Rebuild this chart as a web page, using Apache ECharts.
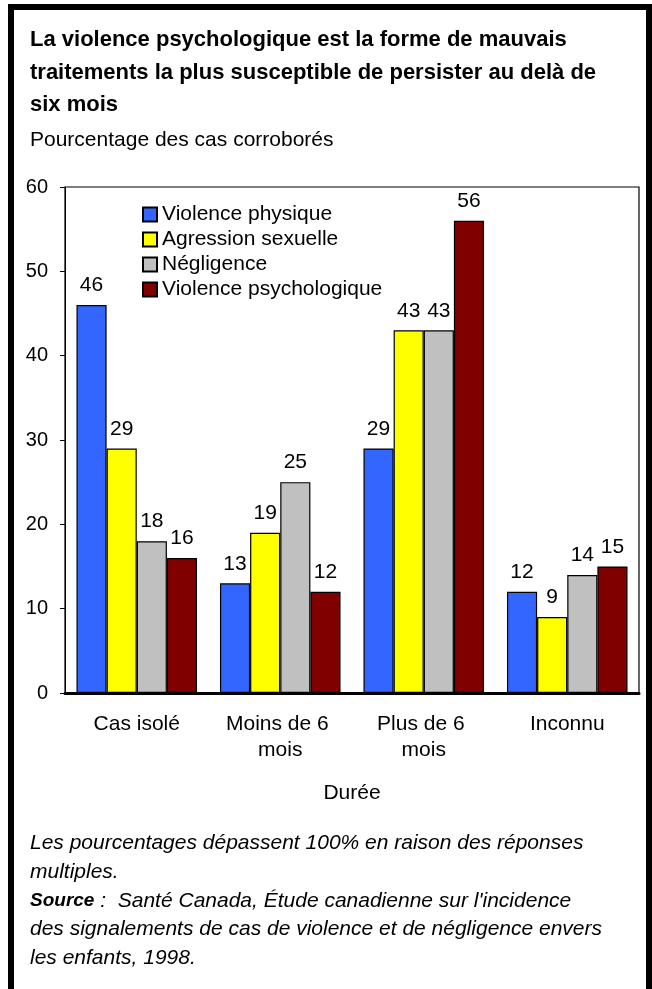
<!DOCTYPE html>
<html>
<head>
<meta charset="utf-8">
<script src="https://cdn.jsdelivr.net/npm/echarts@6/dist/echarts.min.js"></script>
<style>
html,body{margin:0;padding:0;background:#fff;}
#chart{width:652px;height:989px;}
</style>
</head>
<body>
<div id="chart"></div>
<script>
const categories = ['Cas isolé', 'Moins de 6 mois', 'Plus de 6 mois', 'Inconnu'];
const seriesNames = ['Violence physique', 'Agression sexuelle', 'Négligence', 'Violence psychologique'];
const violencePhysique = [46, 13, 29, 12];
const agressionSexuelle = [29, 19, 43, 9];
const negligence = [18, 25, 43, 14];
const violencePsychologique = [16, 12, 56, 15];
const yTicks = [0, 10, 20, 30, 40, 50, 60];

const titleText = 'La violence psychologique est la forme de mauvais\ntraitements la plus susceptible de persister au delà de\nsix mois';
const subtitleText = 'Pourcentage des cas corroborés';
const xAxisTitle = 'Durée';
const noteText = 'Les pourcentages dépassent 100% en raison des réponses\nmultiples.';
const sourceLabel = 'Source';
const sourceLines = [' :  Santé Canada, Étude canadienne sur l\'incidence', 'des signalements de cas de violence et de négligence envers', 'les enfants, 1998.'];

const colors = ['#3366FF', '#FFFF00', '#C0C0C0', '#800000'];
const FONT = 'Arial, "Liberation Sans", Helvetica, sans-serif';
const seriesData = [violencePhysique, agressionSexuelle, negligence, violencePsychologique];

const chart = echarts.init(document.getElementById('chart'), null, {renderer: 'canvas'});

const series = seriesNames.map((name, i) => ({
  name: name,
  type: 'bar',
  data: seriesData[i],
  barGap: '0%',
  barCategoryGap: '16%',
  itemStyle: {color: colors[i], borderColor: '#000', borderWidth: 1.2},
  label: {
    show: true, position: 'top', distance: 9,
    color: '#000', fontSize: 21, fontFamily: FONT
  },
  emphasis: {disabled: true},
  animation: false
}));

chart.setOption({
  animation: false,
  textStyle: {fontFamily: FONT},
  grid: {left: 65, right: 13, top: 187, bottom: 296, show: true, borderColor: '#000', borderWidth: 1.2, backgroundColor: 'transparent'},
  legend: {
    orient: 'vertical', left: 137, top: 199,
    itemWidth: 14, itemHeight: 14, itemGap: 4,
    icon: 'rect',
    textStyle: {fontSize: 21, lineHeight: 21, color: '#000', fontFamily: FONT},
    data: seriesNames,
    selectedMode: false
  },
  xAxis: {
    type: 'category',
    data: categories,
    axisLine: {show: true, lineStyle: {color: '#000', width: 3}},
    axisTick: {show: false},
    axisLabel: {color: '#000', fontSize: 21, lineHeight: 26, margin: 18, fontFamily: FONT, width: 130, overflow: 'break', interval: 0}
  },
  yAxis: {
    type: 'value',
    min: yTicks[0], max: yTicks[yTicks.length - 1], interval: 10,
    axisLine: {show: true, lineStyle: {color: '#000', width: 1}},
    axisTick: {show: true, inside: false, length: 5, lineStyle: {color: '#000'}},
    axisLabel: {color: '#000', fontSize: 20, margin: 17, fontFamily: FONT},
    splitLine: {show: false}
  },
  graphic: [
    {type: 'rect', shape: {x: 11, y: 7, width: 638, height: 1000}, style: {fill: 'none', stroke: '#000', lineWidth: 6}, silent: true},
    {type: 'text', x: 30, y: 24, style: {text: titleText, font: 'bold 22px ' + FONT, fill: '#000', lineHeight: 32.5, verticalAlign: 'top'}},
    {type: 'text', x: 30, y: 140, style: {text: subtitleText, font: '21px ' + FONT, fill: '#000', verticalAlign: 'middle'}},
    {type: 'text', x: 352, y: 793, style: {text: xAxisTitle, font: '21px ' + FONT, fill: '#000', align: 'center', verticalAlign: 'middle'}},
    {type: 'text', x: 30, y: 829, style: {text: noteText, font: 'italic 21px ' + FONT, fill: '#000', lineHeight: 28.7, verticalAlign: 'top'}},
    {type: 'text', x: 30, y: 886.4, style: {
      text: '{b|' + sourceLabel + '}{i|' + sourceLines[0] + '}\n{i|' + sourceLines[1] + '}\n{i|' + sourceLines[2] + '}',
      verticalAlign: 'top',
      rich: {
        b: {fontFamily: FONT, fontSize: 19, fontStyle: 'italic', fontWeight: 'bold', fill: '#000', lineHeight: 28.7},
        i: {fontFamily: FONT, fontSize: 21, fontStyle: 'italic', fill: '#000', lineHeight: 28.7}
      }
    }}
  ],
  series: series
});
</script>
</body>
</html>
